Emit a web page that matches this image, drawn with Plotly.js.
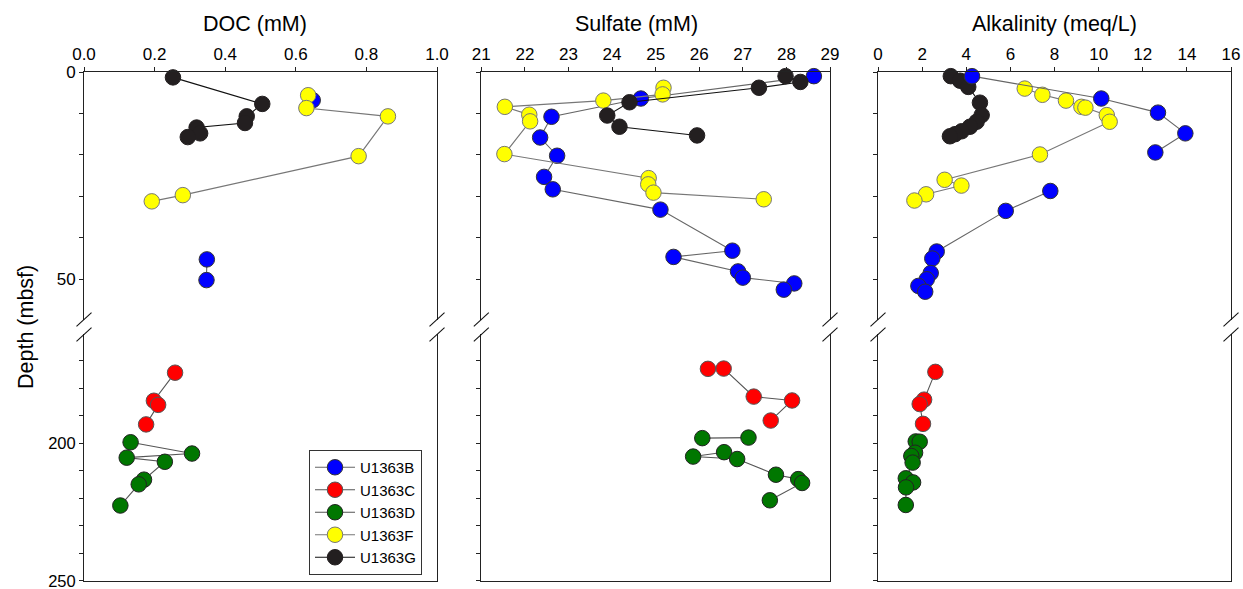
<!DOCTYPE html>
<html>
<head>
<meta charset="utf-8">
<script src="https://cdn.plot.ly/plotly-3.0.1.min.js"></script>
<style>html,body{margin:0;padding:0;background:#fff;}#chart{width:1243px;height:589px;}</style>
</head>
<body>
<div id="chart"></div>
<script>
// ---------------- DATA ----------------
const siteNames = ['U1363B', 'U1363C', 'U1363D', 'U1363F', 'U1363G'];
const panelTitles = ['DOC (mM)', 'Sulfate (mM)', 'Alkalinity (meq/L)'];

// DOC (mM)
const docB_depth = [6.8, null, 45.2, 50.2];
const docB = [0.648, null, 0.348, 0.347];
const docC_depth = [174.3, 184.5, 186.0, 193.1];
const docC = [0.258, 0.198, 0.210, 0.176];
const docD_depth = [199.6, 203.7, 205.2, 206.7, 213.2, 214.9, 222.6];
const docD = [0.132, 0.306, 0.121, 0.229, 0.170, 0.155, 0.103];
const docF_depth = [5.6, 8.7, 10.7, 20.3, 29.7, 31.2];
const docF = [0.635, 0.630, 0.861, 0.778, 0.280, 0.192];
const docG_depth = [1.3, 7.7, 10.7, 12.3, 13.4, 14.8, 15.7];
const docG = [0.252, 0.505, 0.461, 0.456, 0.319, 0.329, 0.294];

// Sulfate (mM)
const so4B_depth = [1.0, 6.4, 10.8, 15.8, 20.2, 25.3, 28.3, 33.2, 43.1, 44.6, 48.1, 49.6, 51.0, 52.5];
const so4B = [28.63, 24.66, 22.61, 22.35, 22.74, 22.44, 22.64, 25.11, 26.76, 25.41, 26.89, 27.00, 28.18, 27.94];
const so4C_depth = [172.9, 172.8, 183.0, 184.4, 191.7];
const so4C = [26.20, 26.56, 27.25, 28.13, 27.64];
const so4D_depth = [198.1, 197.9, null, 203.2, 204.8, 205.7, 211.4, 213.0, 214.4, 220.7];
const so4D = [26.07, 27.13, null, 26.57, 25.86, 26.87, 27.76, 28.27, 28.36, 27.62];
const so4F_depth = [3.8, 5.4, 6.9, 8.4, 10.3, 11.9, 19.8, 25.6, 27.1, 29.1, 30.7];
const so4F = [25.18, 25.16, 23.80, 21.54, 22.10, 22.12, 21.53, 24.84, 24.83, 24.95, 27.48];
const so4G_depth = [1.0, 2.4, 3.8, 7.3, 10.5, 13.2, 15.3];
const so4G = [27.98, 28.32, 27.37, 24.40, 23.89, 24.17, 25.95];

// Alkalinity (meq/L)
const alkB_depth = [1.0, 6.4, 9.8, 14.8, 19.4, null, 28.7, 33.5, 43.3, 45.0, 48.5, 50.0, 51.6, 53.0];
const alkB = [4.26, 10.12, 12.69, 13.93, 12.57, null, 7.81, 5.79, 2.66, 2.46, 2.39, 2.21, 1.83, 2.14];
const alkC_depth = [174.0, 184.1, 185.7, 192.9];
const alkC = [2.60, 2.09, 1.89, 2.04];
const alkD_depth = [199.3, 199.4, 203.4, 204.6, 207.0, 212.7, 214.2, 216.0, 222.4];
const alkD = [1.71, 1.89, 1.68, 1.51, 1.57, 1.26, 1.59, 1.27, 1.26];
const alkF_depth = [4.0, 5.5, 6.9, 8.4, 8.6, 10.4, 12.0, 19.9, 26.0, 27.4, 29.5, 31.0];
const alkF = [6.65, 7.45, 8.52, 9.22, 9.40, 10.37, 10.50, 7.34, 3.02, 3.78, 2.18, 1.65];
const alkG_depth = [1.0, 2.1, 3.6, 7.4, 10.4, 12.0, 13.2, 14.3, 15.0, 15.5];
const alkG = [3.30, 3.72, 4.09, 4.62, 4.70, 4.47, 4.17, 3.79, 3.49, 3.26];

// ---------------- STYLE ----------------
const W = 1243, H = 589;
const FONT = 'Liberation Sans, Arial, Helvetica, sans-serif';
const fill = {U1363B: '#0000ff', U1363C: '#ff0000', U1363D: '#007700', U1363F: '#ffff00', U1363G: '#231f20'};
const edge = {U1363B: '#333333', U1363C: '#555555', U1363D: '#222222', U1363F: '#777777', U1363G: '#231f20'};
const lineCol = {U1363B: '#666666', U1363C: '#555555', U1363D: '#555555', U1363F: '#777777', U1363G: '#111111'};
const upperSites = {U1363B: true, U1363F: true, U1363G: true, U1363C: false, U1363D: false};

const panels = [
  {x: {U1363B: docB, U1363C: docC, U1363D: docD, U1363F: docF, U1363G: docG},
   y: {U1363B: docB_depth, U1363C: docC_depth, U1363D: docD_depth, U1363F: docF_depth, U1363G: docG_depth},
   range: [0, 1], dtick: 0.2, fmt: '.1f', order: ['U1363B','U1363C','U1363D','U1363F','U1363G']},
  {x: {U1363B: so4B, U1363C: so4C, U1363D: so4D, U1363F: so4F, U1363G: so4G},
   y: {U1363B: so4B_depth, U1363C: so4C_depth, U1363D: so4D_depth, U1363F: so4F_depth, U1363G: so4G_depth},
   range: [21, 29], dtick: 1, fmt: 'd', order: ['U1363B','U1363C','U1363D','U1363F','U1363G']},
  {x: {U1363B: alkB, U1363C: alkC, U1363D: alkD, U1363F: alkF, U1363G: alkG},
   y: {U1363B: alkB_depth, U1363C: alkC_depth, U1363D: alkD_depth, U1363F: alkF_depth, U1363G: alkG_depth},
   range: [0, 16], dtick: 2, fmt: 'd', order: ['U1363G','U1363C','U1363D','U1363F','U1363B']}
];

// pixel geometry of panels
const colPx = [[84, 437], [481.3, 830], [878, 1231]];
const topPx = [72, 319.5];
const botPx = [334.2, 581.0];
const py = v => 1 - v / H;

const traces = [];
panels.forEach((p, i) => {
  p.order.forEach(s => {
    const up = upperSites[s];
    const xa = up ? 'x' + (i + 1 === 1 ? '' : i + 1) : 'x' + (i + 4);
    const ya = up ? 'y' + (i + 1 === 1 ? '' : i + 1) : 'y' + (i + 4);
    traces.push({
      type: 'scatter', mode: 'lines+markers', name: s,
      x: p.x[s], y: p.y[s], xaxis: xa, yaxis: ya,
      connectgaps: false,
      showlegend: i === 0, legendrank: siteNames.indexOf(s),
      line: {color: lineCol[s], width: 1.1},
      marker: {size: 15.5, color: fill[s], line: {color: edge[s], width: 1}},
      cliponaxis: false
    });
  });
});

const layout = {
  width: W, height: H,
  margin: {l: 0, r: 0, t: 0, b: 0},
  paper_bgcolor: '#fff', plot_bgcolor: '#fff',
  font: {family: FONT, size: 17, color: '#000'},
  showlegend: true,
  legend: {
    x: 309 / W, y: py(450), xanchor: 'left', yanchor: 'top',
    bgcolor: '#fff', bordercolor: '#333', borderwidth: 1,
    font: {family: FONT, size: 15, color: '#000'},
    itemwidth: 40,
    traceorder: 'normal', tracegroupgap: 0
  },
  annotations: [],
  shapes: []
};

const axLine = '#222';
for (let i = 0; i < 3; i++) {
  const n = i + 1, m = i + 4;
  const dom = [colPx[i][0] / W, colPx[i][1] / W];
  const p = panels[i];
  layout['xaxis' + (n === 1 ? '' : n)] = {
    domain: dom, range: p.range, anchor: 'y' + (n === 1 ? '' : n), side: 'top',
    dtick: p.dtick, tick0: 0, tickformat: p.fmt,
    showline: true, linecolor: axLine, linewidth: 1,
    ticks: 'outside', ticklen: 4, tickcolor: axLine,
    showgrid: false, zeroline: false, ticklabeloverflow: 'allow',
    tickfont: {family: FONT, size: 17, color: '#000'}
  };
  layout['xaxis' + m] = {
    domain: dom, range: p.range, anchor: 'y' + m, side: 'bottom',
    showline: true, linecolor: axLine, linewidth: 1,
    ticks: '', showticklabels: false, showgrid: false, zeroline: false
  };
  layout['yaxis' + (n === 1 ? '' : n)] = {
    domain: [py(topPx[1]), py(topPx[0])], range: [59.7, 0], anchor: 'x' + (n === 1 ? '' : n),
    tick0: 0, dtick: 50, showticklabels: i === 0,
    showline: true, mirror: true, linecolor: axLine, linewidth: 1,
    ticks: 'outside', ticklen: 4, tickcolor: axLine,
    minor: {dtick: 10, tick0: 0, ticks: 'outside', ticklen: 4, tickcolor: axLine, showgrid: false},
    showgrid: false, zeroline: false, ticklabeloverflow: 'allow',
    tickfont: {family: FONT, size: 17, color: '#000'}
  };
  layout['yaxis' + m] = {
    domain: [py(botPx[1]), py(botPx[0])], range: [250.05, 160.3], anchor: 'x' + m,
    tick0: 0, dtick: 50, showticklabels: i === 0,
    showline: true, mirror: true, linecolor: axLine, linewidth: 1,
    ticks: 'outside', ticklen: 4, tickcolor: axLine,
    minor: {dtick: 10, tick0: 0, ticks: 'outside', ticklen: 4, tickcolor: axLine, showgrid: false},
    showgrid: false, zeroline: false, ticklabeloverflow: 'allow',
    tickfont: {family: FONT, size: 16.5, color: '#000'}
  };
  // break marks on both sides of each panel
  [colPx[i][0], colPx[i][1]].forEach(xp => {
    [319.5, 334.5].forEach(yp => {
      layout.shapes.push({type: 'line', xref: 'paper', yref: 'paper',
        x0: (xp - 7.5) / W, y0: py(yp + 6.8), x1: (xp + 7.5) / W, y1: py(yp - 6.8),
        line: {color: '#111', width: 1.1}});
    });
  });
}

// panel titles
const titleX = [255, 636, 1054];
panelTitles.forEach((t, i) => {
  layout.annotations.push({text: t, xref: 'paper', yref: 'paper', x: titleX[i] / W, y: py(24),
    xanchor: 'center', yanchor: 'middle', showarrow: false,
    font: {family: FONT, size: 21.5, color: '#000'}});
});
layout.annotations.push({text: 'Depth (mbsf)', xref: 'paper', yref: 'paper', x: 26 / W, y: py(327),
  xanchor: 'center', yanchor: 'middle', textangle: -90, showarrow: false,
  font: {family: FONT, size: 21.5, color: '#000'}});

Plotly.newPlot('chart', traces, layout, {staticPlot: true, displayModeBar: false});
</script>
</body>
</html>
